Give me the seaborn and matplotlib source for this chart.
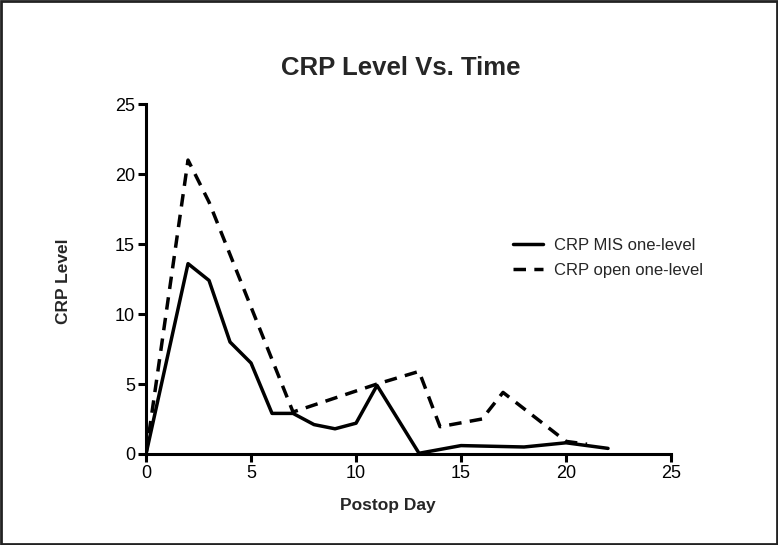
import pandas as pd
import matplotlib
matplotlib.use("Agg")
import matplotlib.pyplot as plt
import seaborn as sns
from matplotlib.patches import Rectangle

# valeurs
mis_days = [0, 2, 3, 4, 5, 6, 7, 8, 9, 10, 11, 13, 15, 18, 20, 22]
mis_crp = [0, 13.6, 12.4, 8.0, 6.5, 2.9, 2.9, 2.1, 1.8, 2.2, 4.9, 0.05, 0.6, 0.5, 0.8, 0.4]

open_days = [0, 2, 3, 7, 11, 13, 14, 16, 17, 20, 21]
open_crp = [0, 21.0, 18.0, 3.0, 5.0, 5.9, 1.95, 2.5, 4.4, 0.9, 0.7]

labels = ["CRP MIS one-level", "CRP open one-level"]

df = pd.concat([
    pd.DataFrame({"Day": mis_days, "CRP": mis_crp, "Group": labels[0]}),
    pd.DataFrame({"Day": open_days, "CRP": open_crp, "Group": labels[1]}),
])

sns.set_style("white")
plt.rcParams["font.family"] = ["Liberation Sans", "DejaVu Sans"]

fig = plt.figure(figsize=(7.78, 5.45), dpi=100)
ax = fig.add_axes([0.1877, 0.167, 0.6748, 0.642])

sns.lineplot(data=df, x="Day", y="CRP", hue="Group", style="Group",
             palette=["black", "black"], dashes=[(None, None), (3.6, 2.4)],
             linewidth=2.5, ax=ax, sort=False, estimator=None)

ax.set_xlim(0, 25)
ax.set_ylim(0, 25)
ax.set_xticks([0, 5, 10, 15, 20, 25])
ax.set_yticks([0, 5, 10, 15, 20, 25])
sns.despine(ax=ax)
for s in ["left", "bottom"]:
    ax.spines[s].set_linewidth(2.2)
    ax.spines[s].set_color("black")
ax.tick_params(axis="both", direction="out", length=6, width=2.2,
               labelsize=13, colors="black", pad=2)
ax.tick_params(bottom=True, left=True)

ax.set_xlabel("Postop Day", fontsize=12.5, fontweight="bold")
ax.xaxis.set_label_coords(0.461, -0.127)
ax.set_ylabel("CRP Level", fontsize=12.5, fontweight="bold")
ax.yaxis.set_label_coords(-0.143, 0.495)
fig.text(0.515, 0.875, "CRP Level Vs. Time", fontsize=18.5, fontweight="bold",
         ha="center", va="center")

leg = ax.legend(loc="upper left", bbox_to_anchor=(0.67, 0.66), frameon=False,
                fontsize=12, handlelength=1.8, labelspacing=0.6, handletextpad=0.7)
for line in leg.get_lines():
    line.set_linewidth(2.5)

fig.patches.append(Rectangle((0.001, 0.001), 0.998, 0.998, transform=fig.transFigure,
                             fill=False, edgecolor="#222222", linewidth=2))

fig.savefig("out.png", dpi=100)
